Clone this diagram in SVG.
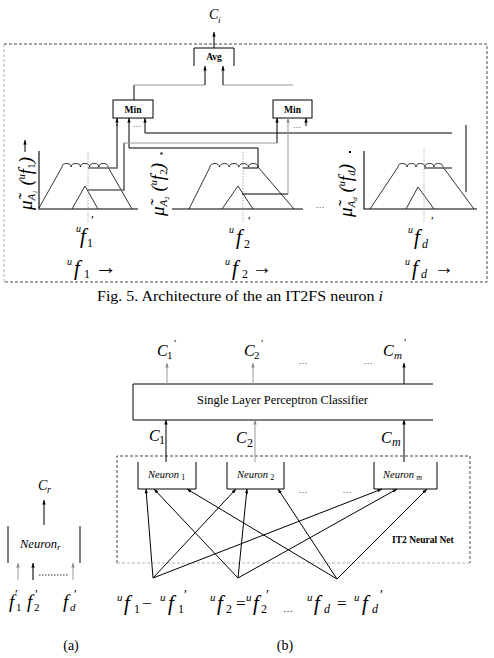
<svg xmlns="http://www.w3.org/2000/svg" width="494" height="658" viewBox="0 0 494 658">
<defs>
<marker id="ah" viewBox="0 0 8 6" refX="8" refY="3" markerWidth="4.5" markerHeight="3.6" orient="auto" markerUnits="userSpaceOnUse"><path d="M0,0 L8,3 L0,6 z" fill="#000"/></marker>
<marker id="ahg" viewBox="0 0 8 6" refX="8" refY="3" markerWidth="4.5" markerHeight="3.6" orient="auto" markerUnits="userSpaceOnUse"><path d="M0,0 L8,3 L0,6 z" fill="#888"/></marker>
</defs>
<style>
text{font-family:"Liberation Serif","Times New Roman","DejaVu Serif",serif;fill:#000}
.i{font-style:italic}
.b{font-weight:bold}
.ln{fill:none;stroke:#000;stroke-width:1}
.gl{fill:none;stroke:#999;stroke-width:1}
.dg{fill:none;stroke:#666;stroke-width:1.6}
.mf{fill:none;stroke:#000;stroke-width:0.8}
.ax{fill:none;stroke:#000;stroke-width:1.1}
.dot{fill:none;stroke:#999;stroke-width:0.8;stroke-dasharray:1.5,1.5}
.box{fill:#fff;stroke:#000;stroke-width:1}
.dsh{fill:none;stroke:#333;stroke-width:0.9;stroke-dasharray:3,2}
.dshl{fill:none;stroke:#aaa;stroke-width:0.9;stroke-dasharray:3,2}
.ar{marker-end:url(#ah)}
.arg{marker-end:url(#ahg)}
</style>

<!-- ===== Top figure ===== -->
<g id="frame-top">
<path class="dsh" d="M4,44 H487 V282 H4"/>
<path class="dshl" d="M4,44 V282"/>
</g>

<g id="out-ci">
<text x="209" y="19" class="i" font-size="14">C</text>
<text x="218" y="23" class="i" font-size="9">i</text>
</g>

<g id="avg">
<path class="ln" d="M194,66 V48 H234 V66"/>
<text x="214" y="60" class="b" font-size="9.5" text-anchor="middle">Avg</text>
</g>

<g id="min1">
<rect class="box" x="113" y="100" width="40" height="18"/>
<text x="133" y="112.5" class="b" font-size="9.5" text-anchor="middle">Min</text>
<text x="137" y="127" font-size="8" text-anchor="middle" fill="#335">…</text>
</g>

<g id="min2">
<rect class="box" x="273" y="100" width="39" height="18"/>
<text x="292.5" y="112.5" class="b" font-size="9.5" text-anchor="middle">Min</text>
<text x="297" y="128" font-size="8" text-anchor="middle" fill="#335">…</text>
</g>

<g id="plot1">
<path class="ax" d="M39,151 V209 H138"/>
<path class="mf" d="M39,208 L62,167 a4.6,3.5 0 0 1 9.2,0 a4.6,3.5 0 0 1 9.2,0 a4.6,3.5 0 0 1 9.2,0 a4.6,3.5 0 0 1 9.2,0 a4.6,3.5 0 0 1 9.2,0 L132,209"/>
<path class="mf" d="M72,209 L85,186 L98,209"/>
<path class="dot" d="M88,152 V222"/>
<g transform="translate(32,210) rotate(-90)">
<text x="0" y="0" class="i" font-size="19">μ̃<tspan font-size="11" dy="3">A</tspan><tspan font-size="7" dy="2">1</tspan><tspan font-size="19" dy="-5"> (</tspan><tspan font-size="10" dy="-7">u</tspan><tspan font-size="19" dy="7">f</tspan><tspan font-size="11" dy="3" font-style="normal">1</tspan><tspan font-size="19" dy="-3">)</tspan></text>
</g>
<line class="ln ar" x1="25" y1="152" x2="25" y2="140"/>
<text x="76" y="232" class="i" font-size="10">u</text>
<text x="80" y="243" class="i" font-size="21">f</text>
<text x="87" y="247" font-size="12">1</text>
<text x="91" y="224" font-size="13">′</text>
<text x="67" y="265" class="i" font-size="10">u</text>
<text x="74" y="275" class="i" font-size="21">f</text>
<text x="84" y="278" font-size="12">1</text>
<text x="95" y="274" class="b" font-size="22">→</text>
</g>

<g id="plot2">
<path class="ax" d="M172,209 H303"/>
<path class="mf" d="M189,209 L210,167 a4.8,3.5 0 0 1 9.6,0 a4.8,3.5 0 0 1 9.6,0 a4.8,3.5 0 0 1 9.6,0 a4.8,3.5 0 0 1 9.6,0 a4.8,3.5 0 0 1 9.6,0 L294,209"/>
<path class="mf" d="M222,209 L238,186 L253,209"/>
<path class="dot" d="M243,152 V222"/>
<g transform="translate(164,216) rotate(-90)">
<text x="0" y="0" class="i" font-size="19">μ̃<tspan font-size="11" dy="3">A</tspan><tspan font-size="7" dy="2" font-style="normal">2</tspan><tspan font-size="19" dy="-5"> (</tspan><tspan font-size="10" dy="-7">u</tspan><tspan font-size="19" dy="7">f</tspan><tspan font-size="11" dy="3" font-style="normal">2</tspan><tspan font-size="19" dy="-3">)</tspan></text>
</g>
<rect x="160.5" y="152.5" width="2" height="2"/>
<text x="320" y="208" font-size="9" text-anchor="middle">…</text>
<text x="229" y="233" class="i" font-size="10">u</text>
<text x="236" y="244" class="i" font-size="21">f</text>
<text x="244" y="248" font-size="12">2</text>
<text x="248" y="225" font-size="13">′</text>
<text x="225" y="265" class="i" font-size="10">u</text>
<text x="232" y="275" class="i" font-size="21">f</text>
<text x="242" y="278" font-size="12">2</text>
<text x="252" y="274" font-size="20">→</text>
</g>

<g id="plot3">
<path class="ax" d="M364,151 V209 H477"/>
<path class="mf" d="M370,209 L398,167 a4.5,3.5 0 0 1 9,0 a4.5,3.5 0 0 1 9,0 a4.5,3.5 0 0 1 9,0 a4.5,3.5 0 0 1 9,0 a4.5,3.5 0 0 1 9,0 L474,209"/>
<path class="mf" d="M406,209 L418,187 L434,209"/>
<path class="dot" d="M424,148 V222"/>
<g transform="translate(352,217) rotate(-90)">
<text x="0" y="0" class="i" font-size="19">μ̃<tspan font-size="11" dy="3">A</tspan><tspan font-size="7" dy="2">d</tspan><tspan font-size="19" dy="-5"> (</tspan><tspan font-size="10" dy="-7">u</tspan><tspan font-size="19" dy="7">f</tspan><tspan font-size="11" dy="3">d</tspan><tspan font-size="19" dy="-3">)</tspan></text>
</g>
<rect x="349" y="151" width="2" height="2"/>
<text x="408" y="233" class="i" font-size="10">u</text>
<text x="414" y="244" class="i" font-size="21">f</text>
<text x="422" y="248" class="i" font-size="12">d</text>
<text x="431" y="225" font-size="13">′</text>
<text x="405" y="265" class="i" font-size="10">u</text>
<text x="412" y="275" class="i" font-size="21">f</text>
<text x="421" y="278" class="i" font-size="12">d</text>
<text x="434" y="274" font-size="20">→</text>
</g>

<g id="connectors-top">
<line class="ln ar" x1="214" y1="48" x2="214" y2="32"/>
<path class="ln" d="M134,100 V85"/>
<path class="gl" d="M134,85 H205"/>
<line class="ln ar" x1="205" y1="85" x2="205" y2="66"/>
<path class="gl" d="M293,85 H223"/>
<line class="ln ar" x1="223" y1="85" x2="223" y2="66"/>
<path class="dg" d="M88,168 H117 V124"/>
<line class="ln ar" x1="117" y1="126" x2="117" y2="118"/>
<polyline class="ln ar" points="243,168 258,168 258,148 129,148 129,118"/>
<path class="dg" d="M88,190 H124 V143"/>
<path class="gl" d="M124,143 H277"/>
<line class="ln ar" x1="277" y1="143" x2="277" y2="118"/>
<polyline class="ln ar" points="452,133 145,133 145,118"/>
<path class="ln" d="M242,194 H288"/>
<line class="gl arg" x1="288" y1="194" x2="288" y2="118"/>
<line class="ln ar" x1="306" y1="126" x2="306" y2="118"/>
<line class="ln" x1="466" y1="125" x2="466" y2="192"/>
<line class="dg" x1="424" y1="168" x2="452" y2="168"/>
</g>

<text x="97" y="301" font-size="15" textLength="286" lengthAdjust="spacingAndGlyphs">Fig. 5. Architecture of the an IT2FS neuron <tspan class="i">i</tspan></text>

<!-- ===== Bottom figure (b) ===== -->
<g id="outputs">
<text x="157" y="356" class="i" font-size="16">C</text><text x="167" y="359" font-size="11">1</text><text x="174" y="347" font-size="11">′</text>
<text x="244" y="356" class="i" font-size="16">C</text><text x="254" y="359" font-size="11">2</text><text x="261" y="347" font-size="11">′</text>
<text x="383" y="356" class="i" font-size="16">C</text><text x="394" y="359" class="i" font-size="11">m</text><text x="404" y="346" font-size="11">′</text>
<text x="303" y="364" font-size="9" text-anchor="middle">…</text>
<text x="368" y="364" font-size="9" text-anchor="middle">…</text>
</g>

<g id="slp">
<path class="ln" d="M433,384 H133 V420 H433"/>
<text x="197" y="404" font-size="12" textLength="171" lengthAdjust="spacingAndGlyphs">Single Layer Perceptron Classifier</text>
</g>

<g id="it2net">
<path class="dsh" d="M117,563 V456 H470 V563"/>
<path class="dshl" d="M117,563 H470"/>
<text x="392" y="543" class="b" font-size="9.5">IT2 Neural Net</text>
</g>

<g id="neuron1">
<path class="ln" d="M138,462 V489 H196 V462"/>
<text x="148" y="478" class="i" font-size="10.5">Neuron<tspan font-size="8" dy="2" font-style="normal"> 1</tspan></text>
</g>
<g id="neuron2">
<path class="ln" d="M227,462 V489 H284 V462"/>
<text x="237" y="478" class="i" font-size="10.5">Neuron<tspan font-size="8" dy="2" font-style="normal"> 2</tspan></text>
</g>
<g id="neuronm">
<path class="ln" d="M374,462 V489 H437 V462"/>
<text x="383" y="478" class="i" font-size="10.5">Neuron<tspan font-size="8" dy="2"> m</tspan></text>
</g>
<text x="303" y="493" font-size="9" text-anchor="middle">…</text>
<text x="347" y="493" font-size="9" text-anchor="middle">…</text>

<g id="labels-c">
<text x="149" y="441" class="i" font-size="16">C</text><text x="159" y="444" font-size="12">1</text>
<text x="236" y="443" class="i" font-size="16">C</text><text x="247" y="447" font-size="12">2</text>
<text x="381" y="443" class="i" font-size="16">C</text><text x="392" y="446" class="i" font-size="12">m</text>
</g>

<g id="inputs-b">
<text x="117" y="601" class="i" font-size="11">u</text>
<text x="124" y="610" class="i" font-size="21">f</text>
<text x="134" y="613" font-size="12">1</text>
<text x="142" y="609" font-size="17">−</text>
<text x="160" y="601" class="i" font-size="11">u</text>
<text x="168" y="610" class="i" font-size="21">f</text>
<text x="178" y="613" font-size="12">1</text>
<text x="184" y="600" font-size="14">′</text>

<text x="210" y="601" class="i" font-size="11">u</text>
<text x="217" y="610" class="i" font-size="21">f</text>
<text x="226" y="613" font-size="12">2</text>
<text x="236" y="609" font-size="17">=</text>
<text x="246" y="601" class="i" font-size="11">u</text>
<text x="253" y="610" class="i" font-size="21">f</text>
<text x="261" y="613" font-size="12">2</text>
<text x="266" y="600" font-size="14">′</text>
<text x="288" y="612" font-size="10" text-anchor="middle">…</text>

<text x="307" y="601" class="i" font-size="11">u</text>
<text x="314" y="610" class="i" font-size="21">f</text>
<text x="324" y="613" class="i" font-size="12">d</text>
<text x="337" y="609" font-size="17">=</text>
<text x="354" y="601" class="i" font-size="11">u</text>
<text x="362" y="610" class="i" font-size="21">f</text>
<text x="372" y="613" class="i" font-size="12">d</text>
<text x="380" y="600" font-size="14">′</text>
</g>

<g id="connectors-bottom">
<line class="gl arg" x1="167" y1="384" x2="167" y2="363"/>
<line class="gl arg" x1="253" y1="384" x2="253" y2="363"/>
<line class="ln ar" x1="404" y1="384" x2="404" y2="363"/>
<line class="ln ar" x1="166" y1="462" x2="166" y2="420"/>
<line class="gl arg" x1="255" y1="462" x2="255" y2="420"/>
<line class="ln ar" x1="404" y1="462" x2="404" y2="420"/>
<line class="ln ar" x1="153" y1="578" x2="146" y2="489"/>
<line class="ln ar" x1="238" y1="578" x2="154" y2="489"/>
<line class="ln ar" x1="337" y1="579" x2="187" y2="489"/>
<line class="ln ar" x1="153" y1="578" x2="236" y2="489"/>
<line class="ln ar" x1="238" y1="578" x2="247" y2="489"/>
<line class="ln ar" x1="337" y1="579" x2="278" y2="489"/>
<line class="ln ar" x1="153" y1="578" x2="382" y2="489"/>
<line class="ln ar" x1="238" y1="578" x2="397" y2="489"/>
<line class="ln ar" x1="337" y1="579" x2="427" y2="489"/>
</g>

<!-- ===== (a) ===== -->
<g id="neuron-r">
<path class="ln" d="M8,526 V563 M80,526 V563"/>
<text x="20" y="548" class="i" font-size="12.5">Neuron<tspan font-size="9" dy="2">r</tspan></text>
</g>
<g id="out-cr">
<text x="38" y="490" class="i" font-size="14">C</text>
<text x="47" y="493" class="i" font-size="10">r</text>
</g>
<g id="connectors-a">
<line class="ln ar" x1="44" y1="525" x2="44" y2="500"/>
<line class="gl arg" x1="18" y1="580" x2="18" y2="563"/>
<line stroke="#777" stroke-width="2" x1="33" y1="580" x2="33" y2="567"/>
<line class="ln ar" x1="33" y1="567" x2="33" y2="563"/>
<line class="gl arg" x1="73" y1="580" x2="73" y2="563"/>
<line stroke="#333" stroke-width="1" stroke-dasharray="1.5,1.5" x1="39" y1="575" x2="68" y2="575"/>
</g>
<g id="inputs-a">
<text x="9" y="608" class="i" font-size="19">f</text><text x="16" y="611" font-size="11">1</text><text x="15" y="598" font-size="13">′</text>
<text x="27" y="608" class="i" font-size="19">f</text><text x="34" y="611" font-size="11">2</text><text x="35" y="598" font-size="13">′</text>
<text x="63" y="608" class="i" font-size="19">f</text><text x="70" y="611" class="i" font-size="11">d</text><text x="74" y="598" font-size="13">′</text>
</g>

<text x="71" y="650" font-size="14" text-anchor="middle">(a)</text>
<text x="285" y="650" font-size="14" text-anchor="middle">(b)</text>
</svg>
